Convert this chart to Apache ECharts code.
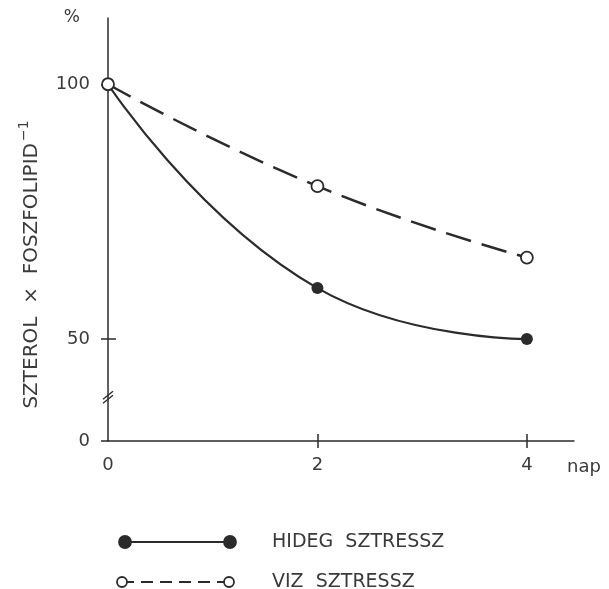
<!DOCTYPE html>
<html>
<head>
<meta charset="utf-8">
<script src="https://cdn.jsdelivr.net/npm/echarts@6/dist/echarts.min.js"></script>
<style>
html, body { margin: 0; padding: 0; background: #fff; }
#chart { width: 609px; height: 589px; }
</style>
</head>
<body>
<div id="chart"></div>
<script>
// data (days vs. % sterol/phospholipid)
var days = [0, 2, 4];
var hidegValues = [100, 60, 50];
var vizValues = [100, 80, 66];
var xTickValues = [0, 2, 4];
var yTickValues = [30, 50, 100];   // 30 sits below the axis break and is labelled "0"
var yTickLabels = ['0', '50', '100'];
var seriesNames = ['HIDEG  SZTRESSZ', 'VIZ  SZTRESSZ'];

var ink = '#2b2b2b';
var textColor = '#3a3a3a';
var font = 'DejaVu Sans';

function pairs(xs, ys) {
    return xs.map(function (x, i) { return [x, ys[i]]; });
}

var chart = echarts.init(document.getElementById('chart'));
var options = {
    animation: false,
    backgroundColor: '#fff',
    grid: { left: 108, right: 35, top: 18, bottom: 148 },
    xAxis: [{
        type: 'value', min: 0, max: 4.45,
        axisLine: { show: true, onZero: false, lineStyle: { color: ink, width: 1.5 } },
        axisTick: { show: true, customValues: [2, 4], length: 7, lineStyle: { color: ink, width: 1.5 } },
        axisLabel: { customValues: xTickValues, margin: 15, color: textColor, fontFamily: font, fontSize: 18 },
        splitLine: { show: false },
        name: 'nap', nameLocation: 'end', nameGap: -7,
        nameTextStyle: { color: textColor, fontFamily: font, fontSize: 18, verticalAlign: 'top', padding: [17, 0, 0, 0] }
    }, {
        // second copy only for the inner half of the crossing ticks
        type: 'value', min: 0, max: 4.45, position: 'bottom',
        axisLine: { show: false }, axisLabel: { show: false }, splitLine: { show: false },
        axisTick: { show: true, inside: true, customValues: [2, 4], length: 7, lineStyle: { color: ink, width: 1.5 } }
    }],
    yAxis: [{
        type: 'value', min: 30, max: 113,
        axisLine: { show: true, lineStyle: { color: ink, width: 1.5 } },
        axisTick: { show: true, customValues: yTickValues, length: 7, lineStyle: { color: ink, width: 1.5 } },
        axisLabel: {
            customValues: yTickValues, margin: 18, color: textColor, fontFamily: font, fontSize: 18,
            formatter: function (v) { return yTickLabels[yTickValues.indexOf(v)]; }
        },
        splitLine: { show: false },
        name: '{t|SZTEROL  ×  FOSZFOLIPID}{s|−1}', nameLocation: 'middle', nameGap: 61,
        nameTextStyle: {
            padding: [0, 70, 0, 0],
            rich: {
                t: { color: textColor, fontFamily: font, fontSize: 20 },
                s: { color: textColor, fontFamily: font, fontSize: 14, padding: [0, 0, 16, 2] }
            }
        }
    }, {
        type: 'value', min: 30, max: 113, position: 'left',
        axisLine: { show: false }, axisLabel: { show: false }, splitLine: { show: false },
        axisTick: { show: true, inside: true, customValues: [50], length: 8, lineStyle: { color: ink, width: 1.5 } },
        name: '%', nameLocation: 'end', nameGap: 0,
        nameTextStyle: { color: textColor, fontFamily: font, fontSize: 17, align: 'right', verticalAlign: 'middle', padding: [0, 28, 0, 0] }
    }],
    series: [{
        name: seriesNames[0],
        type: 'line',
        data: pairs(days, hidegValues),
        smooth: 0.5,
        symbol: 'circle', symbolSize: 12,
        itemStyle: { color: ink },
        lineStyle: { color: ink, width: 2.2 },
        z: 2
    }, {
        name: seriesNames[1],
        type: 'line',
        data: pairs(days, vizValues),
        smooth: 0.5,
        symbol: 'circle', symbolSize: 12,
        itemStyle: { color: '#fff', borderColor: ink, borderWidth: 1.8 },
        lineStyle: { color: ink, width: 2.5, type: [26, 11] },
        z: 3
    }]
};
chart.setOption(options);

// axis break mark "//" and the hand-drawn style legend
var brk = chart.convertToPixel({ gridIndex: 0 }, [0, 38]);
var legendRows = [
    { y: 542, x1: 125, x2: 230, r: 6, fill: ink, dash: null, name: seriesNames[0] },
    { y: 582, x1: 122, x2: 229, r: 5, fill: '#fff', dash: [12, 7], name: seriesNames[1] }
];
var elements = [
    { type: 'line', shape: { x1: brk[0] - 5, y1: brk[1] - 1, x2: brk[0] + 5, y2: brk[1] - 9 }, style: { stroke: ink, lineWidth: 1.5 } },
    { type: 'line', shape: { x1: brk[0] - 5, y1: brk[1] + 3, x2: brk[0] + 5, y2: brk[1] - 5 }, style: { stroke: ink, lineWidth: 1.5 } }
];
legendRows.forEach(function (row) {
    elements.push({ type: 'line', shape: { x1: row.x1, y1: row.y, x2: row.x2, y2: row.y },
        style: { stroke: ink, lineWidth: 2, lineDash: row.dash } });
    [row.x1, row.x2].forEach(function (cx) {
        elements.push({ type: 'circle', z: 10, shape: { cx: cx, cy: row.y, r: row.r },
            style: { fill: row.fill, stroke: ink, lineWidth: 1.8 } });
    });
    elements.push({ type: 'text', x: 272, y: row.y,
        style: { text: row.name, fill: textColor, font: '19px "DejaVu Sans"', verticalAlign: 'middle' } });
});
chart.setOption({ graphic: elements });
</script>
</body>
</html>
